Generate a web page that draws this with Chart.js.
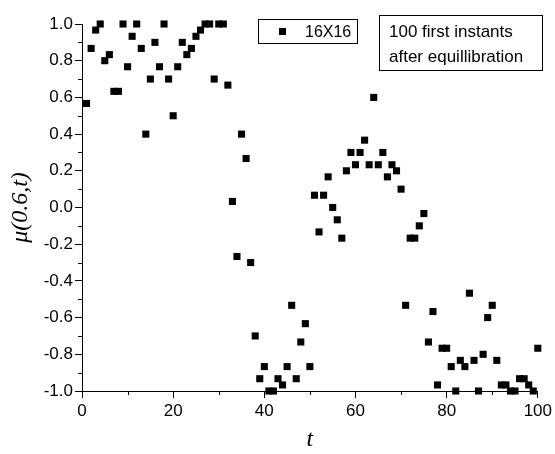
<!DOCTYPE html>
<html>
<head>
<meta charset="utf-8">
<script src="https://cdn.jsdelivr.net/npm/chart.js@4"></script>
<style>
  html, body { margin: 0; padding: 0; background: #fff; }
  #wrap { position: relative; width: 555px; height: 454px; }
  canvas { position: absolute; left: 0; top: 0; }
  .box { position: absolute; border: 1px solid #000; background: #fff;
         font-family: "Liberation Sans", Arial, sans-serif; color: #000; box-sizing: border-box; }
  #legend { left: 258px; top: 19px; width: 100px; height: 25px; font-size: 16px; line-height: 23px; }
  #legend .mk { position: absolute; left: 20px; top: 8px; width: 7px; height: 7px; background: #000; }
  #legend .lbl { position: absolute; left: 46px; top: 0; }
  #note { left: 379px; top: 15px; width: 164px; height: 56px; font-size: 17px; line-height: 24.5px;
          padding: 4px 0 0 9px; white-space: nowrap; }
</style>
</head>
<body>
<div id="wrap">
  <canvas id="c" width="555" height="454"></canvas>
  <div id="legend" class="box"><span class="mk"></span><span class="lbl"></span></div>
  <div id="note" class="box">100 first instants<br>after equillibration</div>
</div>
<script>
// mu(0.6,t) for the first 100 instants after equilibration, 16x16 lattice
const SERIES_LABEL = "16X16";
const T = Array.from({ length: 100 }, (_, i) => i + 1);
const MU = [
  0.567, 0.867, 0.967, 1.0, 0.8, 0.833, 0.633, 0.633, 1.0, 0.767,
  0.933, 1.0, 0.867, 0.4, 0.7, 0.9, 0.767, 1.0, 0.7, 0.5,
  0.767, 0.9, 0.833, 0.867, 0.933, 0.967, 1.0, 1.0, 0.7, 1.0,
  1.0, 0.667, 0.033, -0.267, 0.4, 0.267, -0.3, -0.7, -0.933, -0.867,
  -1.0, -1.0, -0.933, -0.967, -0.867, -0.533, -0.933, -0.733, -0.633, -0.867,
  0.067, -0.133, 0.067, 0.167, 0.0, -0.067, -0.167, 0.2, 0.3, 0.233,
  0.3, 0.367, 0.233, 0.6, 0.233, 0.3, 0.167, 0.233, 0.2, 0.1,
  -0.533, -0.167, -0.167, -0.1, -0.033, -0.733, -0.567, -0.967, -0.767, -0.767,
  -0.867, -1.0, -0.833, -0.867, -0.467, -0.833, -1.0, -0.8, -0.6, -0.533,
  -0.833, -0.967, -0.967, -1.0, -1.0, -0.933, -0.933, -0.967, -1.0, -0.767,
];
const X_MIN = 0, X_MAX = 100, X_MINOR = 10, X_MAJOR = 20;
const Y_MIN = -1, Y_MAX = 1, Y_MINOR = 0.1;
const X_TITLE = "t";
const Y_TITLE = "μ(0.6,t)";

document.querySelector("#legend .lbl").textContent = SERIES_LABEL;

const tickFont = { family: "'Liberation Sans', Arial, sans-serif", size: 17 };
const titleFont = { family: "'Liberation Serif', 'Times New Roman', serif", style: "italic", size: 24 };

// short minor ticks between the labelled ones
const minorTicks = {
  id: "minorTicks",
  afterDraw(chart) {
    const { ctx, scales: { x, y } } = chart;
    ctx.save();
    ctx.strokeStyle = "#000";
    ctx.lineWidth = 1;
    ctx.beginPath();
    for (let v = X_MIN + X_MINOR; v < X_MAX; v += 2 * X_MINOR) {
      const px = Math.round(x.getPixelForValue(v)) + 0.5;
      ctx.moveTo(px, y.bottom); ctx.lineTo(px, y.bottom + 4);
    }
    for (let i = 1; i < 20; i += 2) {
      const py = Math.round(y.getPixelForValue(Y_MIN + i * Y_MINOR)) + 0.5;
      ctx.moveTo(x.left - 4, py); ctx.lineTo(x.left, py);
    }
    ctx.stroke();
    ctx.restore();
  },
};

new Chart(document.getElementById("c"), {
  type: "scatter",
  data: {
    datasets: [{
      label: SERIES_LABEL,
      data: T.map((t, i) => ({ x: t, y: MU[i] })),
      pointStyle: "rect",
      pointRadius: 5,
      pointHoverRadius: 5,
      backgroundColor: "#000",
      borderWidth: 0,
      clip: false,
    }],
  },
  options: {
    responsive: false,
    devicePixelRatio: 1,
    animation: false,
    layout: { padding: { top: 24, right: 17, left: 0, bottom: 0 } },
    plugins: { legend: { display: false }, tooltip: { enabled: false } },
    scales: {
      x: {
        type: "linear", min: X_MIN, max: X_MAX,
        afterFit: s => { s.height = 63; },
        border: { display: true, color: "#000", width: 1 },
        grid: { drawOnChartArea: false, tickLength: 7, tickColor: "#000" },
        ticks: { stepSize: X_MAJOR, color: "#000", font: tickFont, padding: 3, maxRotation: 0 },
        title: { display: true, text: X_TITLE, color: "#000", font: titleFont, padding: 0 },
      },
      y: {
        type: "linear", min: Y_MIN, max: Y_MAX,
        afterFit: s => { s.width = 82; },
        border: { display: true, color: "#000", width: 1 },
        grid: { drawOnChartArea: false, tickLength: 7, tickColor: "#000" },
        ticks: { stepSize: 0.2, color: "#000", font: tickFont, padding: 2,
                 callback: v => v.toFixed(1) },
        title: { display: true, text: Y_TITLE, color: "#000", font: titleFont, padding: { top: 6 } },
      },
    },
  },
  plugins: [minorTicks],
});
</script>
</body>
</html>
